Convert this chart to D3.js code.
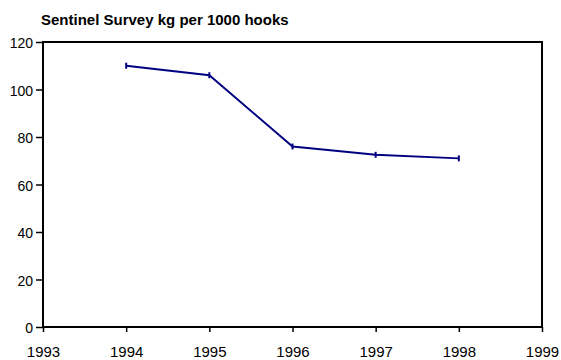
<!DOCTYPE html>
<html>
<head>
<meta charset="utf-8">
<script src="https://cdn.jsdelivr.net/npm/d3@7"></script>
<style>
  body { margin: 0; background: #fff; }
  svg { display: block; font-family: "Liberation Sans", Arial, sans-serif; }
</style>
</head>
<body>
<svg id="chart" width="561" height="360"></svg>
<script>
// Sentinel survey catch rate by year
const years = [1994, 1995, 1996, 1997, 1998];
const kgPer1000Hooks = [110, 106, 76, 72.5, 71];
const xTicks = [1993, 1994, 1995, 1996, 1997, 1998, 1999];
const yTicks = [0, 20, 40, 60, 80, 100, 120];

const svg = d3.select("#chart");
const margin = { left: 43, right: 19, top: 42, bottom: 33 };
const W = 561, H = 360;

const x = d3.scaleLinear().domain([1993, 1999]).range([margin.left, W - margin.right]);
const y = d3.scaleLinear().domain([0, 120]).range([H - margin.bottom, margin.top]);

// Title
svg.append("text")
  .attr("x", 41).attr("y", 25)
  .attr("font-size", 15).attr("font-weight", "bold")
  .text("Sentinel Survey kg per 1000 hooks");

// Y axis
const yAxis = svg.append("g")
  .attr("transform", `translate(${margin.left},0)`)
  .call(d3.axisLeft(y).tickValues(yTicks).tickSize(7).tickPadding(3).tickFormat(d3.format("d")));
yAxis.selectAll(".tick text").attr("font-size", 14).attr("dy", "0.4em");

// X axis
const xAxis = svg.append("g")
  .attr("transform", `translate(0,${H - margin.bottom})`)
  .call(d3.axisBottom(x).tickValues(xTicks).tickSize(5).tickPadding(14).tickFormat(d3.format("d")));
xAxis.selectAll(".tick text").attr("font-size", 15);

[yAxis, xAxis].forEach(g => {
  g.select(".domain").remove();
  g.selectAll(".tick line").attr("stroke", "#000").attr("stroke-width", 1.5);
  g.selectAll(".tick text").attr("fill", "#000")
    .attr("font-family", "Liberation Sans, Arial, sans-serif");
});

// Plot frame
svg.append("rect")
  .attr("x", x(1993)).attr("y", y(120))
  .attr("width", x(1999) - x(1993)).attr("height", y(0) - y(120))
  .attr("fill", "none").attr("stroke", "#000").attr("stroke-width", 2);

const pts = years.map((d, i) => [d, kgPer1000Hooks[i]]);

// Series line
svg.append("path")
  .datum(pts)
  .attr("fill", "none")
  .attr("stroke", "#000080")
  .attr("stroke-width", 2)
  .attr("d", d3.line().x(d => x(d[0])).y(d => y(d[1])));

// Point markers
svg.selectAll("line.mark")
  .data(pts)
  .join("line")
  .attr("class", "mark")
  .attr("x1", d => x(d[0])).attr("x2", d => x(d[0]))
  .attr("y1", d => y(d[1]) - 3).attr("y2", d => y(d[1]) + 3)
  .attr("stroke", "#000080").attr("stroke-width", 2);
</script>
</body>
</html>
